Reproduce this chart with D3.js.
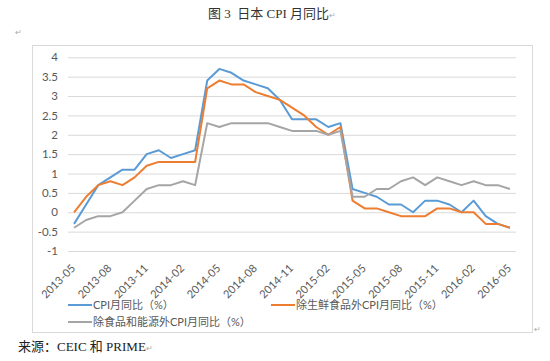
<!DOCTYPE html>
<html>
<head>
<meta charset="utf-8">
<script src="https://cdn.jsdelivr.net/npm/d3@7.9.0/dist/d3.min.js"></script>
<style>
  body { margin: 0; background: #fff; }
  svg { display: block; }
</style>
</head>
<body>
<div id="chart"></div>
<script>
// data
const months = [
  "2013-05", "2013-06", "2013-07", "2013-08", "2013-09", "2013-10", "2013-11", "2013-12",
  "2014-01", "2014-02", "2014-03", "2014-04", "2014-05", "2014-06", "2014-07", "2014-08",
  "2014-09", "2014-10", "2014-11", "2014-12", "2015-01", "2015-02", "2015-03", "2015-04",
  "2015-05", "2015-06", "2015-07", "2015-08", "2015-09", "2015-10", "2015-11", "2015-12",
  "2016-01", "2016-02", "2016-03", "2016-04", "2016-05"
];
const tickLabels = [
  "2013-05", "2013-08", "2013-11", "2014-02", "2014-05", "2014-08", "2014-11",
  "2015-02", "2015-05", "2015-08", "2015-11", "2016-02", "2016-05"
];
const yTicks = [-1, -0.5, 0, 0.5, 1, 1.5, 2, 2.5, 3, 3.5, 4];

const cpi = [
  -0.3, 0.2, 0.7, 0.9, 1.1, 1.1, 1.5, 1.6, 1.4, 1.5, 1.6, 3.4, 3.7, 3.6, 3.4, 3.3,
  3.2, 2.9, 2.4, 2.4, 2.4, 2.2, 2.3, 0.6, 0.5, 0.4, 0.2, 0.2, 0.0, 0.3, 0.3, 0.2,
  0.0, 0.3, -0.1, -0.3, -0.4
];
const cpiExFresh = [
  0.0, 0.4, 0.7, 0.8, 0.7, 0.9, 1.2, 1.3, 1.3, 1.3, 1.3, 3.2, 3.4, 3.3, 3.3, 3.1,
  3.0, 2.9, 2.7, 2.5, 2.2, 2.0, 2.2, 0.3, 0.1, 0.1, 0.0, -0.1, -0.1, -0.1, 0.1, 0.1,
  0.0, 0.0, -0.3, -0.3, -0.4
];
const cpiExFoodEnergy = [
  -0.4, -0.2, -0.1, -0.1, 0.0, 0.3, 0.6, 0.7, 0.7, 0.8, 0.7, 2.3, 2.2, 2.3, 2.3, 2.3,
  2.3, 2.2, 2.1, 2.1, 2.1, 2.0, 2.1, 0.4, 0.4, 0.6, 0.6, 0.8, 0.9, 0.7, 0.9, 0.8,
  0.7, 0.8, 0.7, 0.7, 0.6
];

const series = [
  { name: "CPI月同比（%）", values: cpi, color: "#5b9bd5" },
  { name: "除生鲜食品外CPI月同比（%）", values: cpiExFresh, color: "#ed7d31" },
  { name: "除食品和能源外CPI月同比（%）", values: cpiExFoodEnergy, color: "#a5a5a5" }
];

// config
const width = 550,
  height = 361;
const plot = { left: 68, right: 516, top: 57.3, bottom: 251 };
const sans = "Lato, 'Noto Sans CJK SC', sans-serif";
const serif = "'Liberation Serif', 'Noto Sans CJK SC', serif";

const svg = d3
  .select("#chart")
  .append("svg")
  .attr("width", width)
  .attr("height", height);

// word paragraph mark after a text
function mark(sel) {
  sel.append("tspan").attr("fill", "#aaa").style("font-size", "8px").text("↵");
}

// title
svg
  .append("text")
  .attr("x", 272)
  .attr("y", 18)
  .attr("text-anchor", "middle")
  .attr("xml:space", "preserve")
  .style("white-space", "pre")
  .style("font-family", serif)
  .style("font-size", "13px")
  .attr("fill", "#333")
  .text("图 3  日本 CPI 月同比")
  .call(mark);
svg.append("text").attr("x", 15).attr("y", 35).style("font-size", "8px").attr("fill", "#aaa").text("↵");
svg.append("text").attr("x", 534).attr("y", 332).style("font-size", "8px").attr("fill", "#aaa").text("↵");

// chart frame
svg
  .append("rect")
  .attr("x", 32.5)
  .attr("y", 45.5)
  .attr("width", 500)
  .attr("height", 287)
  .attr("fill", "#fff")
  .attr("stroke", "#d9d9d9");

const x = d3
  .scalePoint()
  .domain(months)
  .range([plot.left, plot.right])
  .padding(0.5);

const y = d3.scaleLinear().domain([-1, 4]).range([plot.bottom, plot.top]);

// grid + y labels
const yAxis = svg
  .append("g")
  .attr("transform", `translate(${plot.left},0)`)
  .call(
    d3
      .axisLeft(y)
      .tickValues(yTicks)
      .tickSize(-(plot.right - plot.left))
      .tickPadding(10)
      .tickFormat((d) => d)
  );
yAxis.select(".domain").remove();
yAxis.selectAll("line").attr("stroke", "#d9d9d9");
yAxis
  .selectAll("text")
  .attr("fill", "#595959")
  .style("font-family", sans)
  .style("font-size", "11.5px");

// x labels
svg
  .append("g")
  .selectAll("text")
  .data(tickLabels)
  .join("text")
  .attr("transform", (d) => `translate(${x(d) + 2},${plot.bottom + 18}) rotate(-45)`)
  .attr("text-anchor", "end")
  .attr("fill", "#595959")
  .style("font-family", sans)
  .style("font-size", "11px")
  .text((d) => d);

// lines
const line = d3
  .line()
  .x((d, i) => x(months[i]))
  .y((d) => y(d));

svg
  .append("g")
  .selectAll("path")
  .data(series)
  .join("path")
  .attr("d", (d) => line(d.values))
  .attr("fill", "none")
  .attr("stroke", (d) => d.color)
  .attr("stroke-width", 2)
  .attr("stroke-linejoin", "round");

// legend
const legendPos = [
  [68, 305],
  [271, 305],
  [68, 322]
];
const legend = svg
  .append("g")
  .selectAll("g")
  .data(series)
  .join("g")
  .attr("transform", (d, i) => `translate(${legendPos[i][0]},${legendPos[i][1]})`);
legend
  .append("line")
  .attr("x1", 0)
  .attr("x2", 24)
  .attr("stroke", (d) => d.color)
  .attr("stroke-width", 2);
legend
  .append("text")
  .attr("x", 25)
  .attr("y", 4)
  .attr("fill", "#595959")
  .style("font-family", sans)
  .style("font-size", "11px")
  .text((d) => d.name);

// source
svg
  .append("text")
  .attr("x", 18)
  .attr("y", 351)
  .style("font-family", serif)
  .style("font-size", "13px")
  .attr("fill", "#222")
  .text("来源：CEIC 和 PRIME")
  .call(mark);
</script>
</body>
</html>
